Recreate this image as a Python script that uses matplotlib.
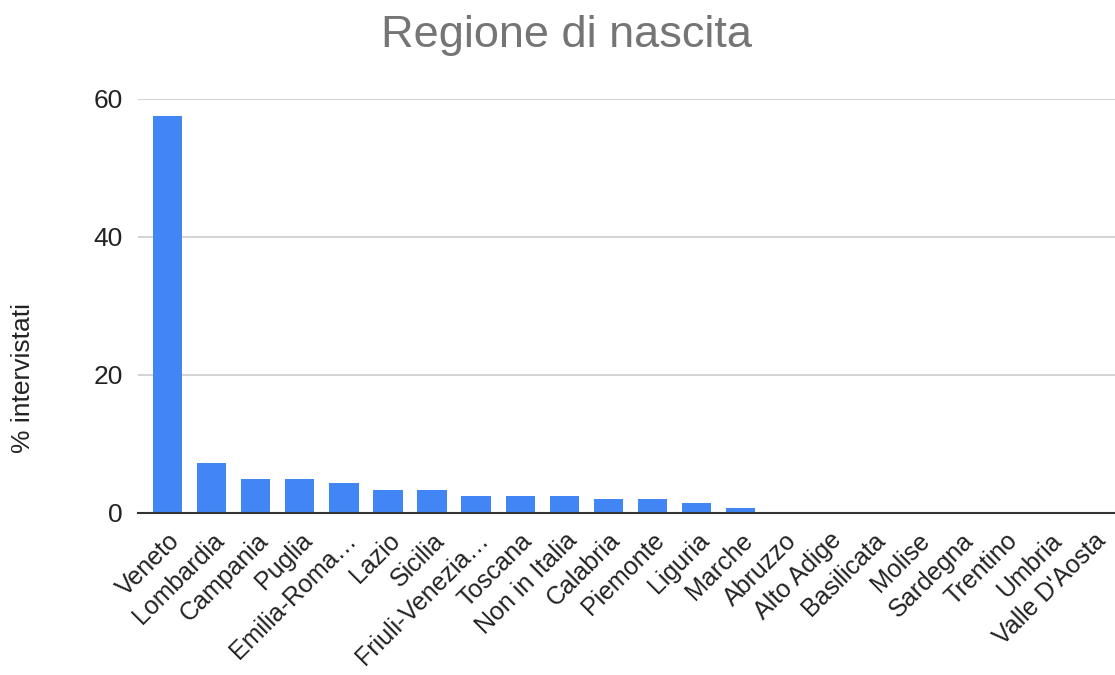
import matplotlib.pyplot as plt

plt.rcParams['font.family'] = ['Liberation Sans', 'DejaVu Sans']

regioni = ["Veneto", "Lombardia", "Campania", "Puglia", "Emilia-Roma…", "Lazio",
           "Sicilia", "Friuli-Venezia…", "Toscana", "Non in Italia", "Calabria",
           "Piemonte", "Liguria", "Marche", "Abruzzo", "Alto Adige", "Basilicata",
           "Molise", "Sardegna", "Trentino", "Umbria", "Valle D'Aosta"]
percentuali = [57.5, 7.3, 5.0, 5.0, 4.3, 3.4, 3.4, 2.4, 2.4, 2.4, 2.0,
               2.0, 1.4, 0.7, 0, 0, 0, 0, 0, 0, 0, 0]
yticks = [0, 20, 40, 60]

fig = plt.figure(figsize=(11.15, 6.75), dpi=100)
# axes box in figure fractions (left edge at 138 px, baseline at 513 px)
ax = fig.add_axes([138 / 1115, 1 - 513 / 675, 977 / 1115, 414 / 675])

x = range(len(regioni))
ax.bar(x, percentuali, width=0.665, color="#4285f4", zorder=3)

ax.set_xlim(-0.67, len(regioni) - 0.51)
ax.set_ylim(0, 60)
ax.set_yticks(yticks)
ax.set_yticklabels([str(t) for t in yticks], fontsize=19, color="#222222")
ax.set_xticks(list(x))
ax.set_xticklabels(regioni, rotation=45, ha="right", rotation_mode="anchor",
                   fontsize=18, color="#222222")
ax.tick_params(axis="both", length=0)
ax.tick_params(axis="y", pad=11)
ax.tick_params(axis="x", pad=11)

ax.yaxis.grid(True, color="#cccccc", linewidth=1.2, zorder=0)
for s in ["top", "right", "left"]:
    ax.spines[s].set_visible(False)
ax.spines["bottom"].set_color("#333333")
ax.spines["bottom"].set_linewidth(1.5)
ax.spines["bottom"].set_zorder(4)

fig.text(23 / 1115, 1 - 378 / 675, "% intervistati", rotation=90,
         ha="center", va="center", fontsize=19, color="#222222")
fig.text(566.5 / 1115, 1 - 35 / 675, "Regione di nascita", ha="center",
         va="center", fontsize=32.5, color="#757575")

fig.savefig("out.png", dpi=100)
